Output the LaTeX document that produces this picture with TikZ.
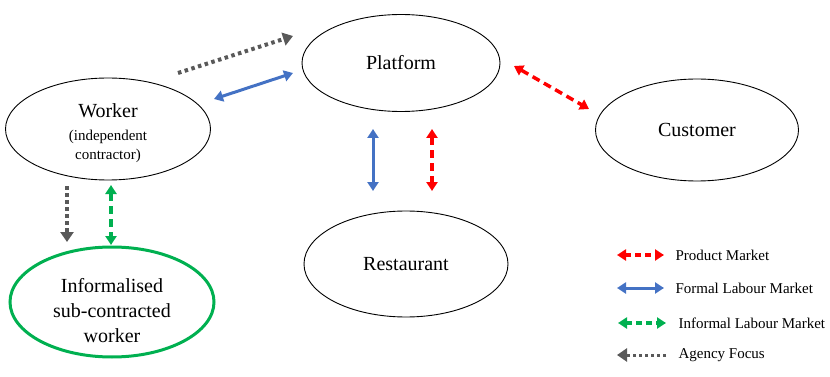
\documentclass[tikz,border=0pt]{standalone}
\usepackage{fontspec}
\setmainfont{Liberation Serif}
\usetikzlibrary{arrows.meta,shapes.geometric}
\definecolor{prodred}{RGB}{255,0,0}
\definecolor{formblue}{RGB}{68,114,196}
\definecolor{infgreen}{RGB}{0,176,80}
\definecolor{agencygray}{RGB}{89,89,89}
\begin{document}
\begin{tikzpicture}[x=1pt,y=-1pt,
  party/.style={draw,ellipse,inner sep=0pt,line width=0.9pt,font=\fontsize{20}{24}\selectfont,align=center},
  product/.style={prodred,line width=3.5pt,dash pattern=on 8pt off 5pt,{Triangle[length=9pt,width=11pt]}-{Triangle[length=9pt,width=11pt]}},
  formal/.style={formblue,line width=3pt,{Triangle[length=9pt,width=11pt]}-{Triangle[length=9pt,width=11pt]}},
  informal/.style={infgreen,line width=3.5pt,dash pattern=on 8pt off 5pt,{Triangle[length=9pt,width=11pt]}-{Triangle[length=9pt,width=11pt]}},
  agency/.style={agencygray,line width=4pt,dash pattern=on 3.5pt off 3.5pt,-{Triangle[length=10pt,width=13pt]}},
  legtext/.style={anchor=west,font=\fontsize{15}{17}\selectfont}]
\useasboundingbox (0,0) rectangle (830,377);
% parties
\node[party,minimum width=198pt,minimum height=97pt] (platform) at (401,63) {Platform};
\node[party,minimum width=205pt,minimum height=102pt] (worker) at (108,129) {};
\node[align=center,inner sep=0pt,font=\fontsize{15}{19}\selectfont] (workertxt) at (108,133)
  {{\fontsize{20}{20}\selectfont Worker}\\[4pt](independent\\contractor)};
\node[party,minimum width=203pt,minimum height=102pt] (customer) at (697,130) {Customer};
\node[party,minimum width=204pt,minimum height=106pt] (restaurant) at (406,264) {Restaurant};
\node[party,draw=infgreen,line width=3pt,minimum width=204pt,minimum height=110pt] (informal) at (112,302) {};
\node[align=center,inner sep=0pt,font=\fontsize{20}{25}\selectfont] (informaltxt) at (112,311)
  {Informalised\\sub-contracted\\worker};
% arrow ends
\coordinate (ag1) at (178,73);
\coordinate (ag2) at (293,36);
\coordinate (wp1) at (214,99);
\coordinate (wp2) at (293,73);
\coordinate (pc1) at (514,66);
\coordinate (pc2) at (589,109);
\coordinate (pr1) at (373,129);
\coordinate (pr2) at (373,191);
\coordinate (rp1) at (432,129);
\coordinate (rp2) at (432,191);
\coordinate (wi1) at (67,186);
\coordinate (wi2) at (67,242);
\coordinate (iw1) at (111,185);
\coordinate (iw2) at (111,245);
% links
\draw[agency] (ag1) -- (ag2);
\draw[formal] (wp1) -- (wp2);
\draw[product] (pc1) -- (pc2);
\draw[formal] (pr1) -- (pr2);
\draw[product] (rp1) -- (rp2);
\draw[agency] (wi1) -- (wi2);
\draw[informal] (iw1) -- (iw2);
% legend
\coordinate (l1a) at (617,255); \coordinate (l1b) at (664,255);
\coordinate (l2a) at (617,288); \coordinate (l2b) at (664,288);
\coordinate (l3a) at (618,323); \coordinate (l3b) at (666,323);
\coordinate (l4a) at (617,355); \coordinate (l4b) at (666,355);
\draw[product,dash pattern=on 6pt off 4pt] (l1a) -- (l1b);
\draw[formal] (l2a) -- (l2b);
\draw[informal,dash pattern=on 6pt off 4pt] (l3a) -- (l3b);
\draw[agency,line width=3pt,dash pattern=on 3pt off 3pt] (l4b) -- (l4a);
\node[legtext] (prodlbl) at (672,255) {Product Market};
\node[legtext] (formlbl) at (672,288) {Formal Labour Market};
\node[legtext] (inflbl) at (675,323) {Informal Labour Market};
\node[legtext] (aglbl) at (675,355) {Agency Focus};
\end{tikzpicture}
\end{document}
